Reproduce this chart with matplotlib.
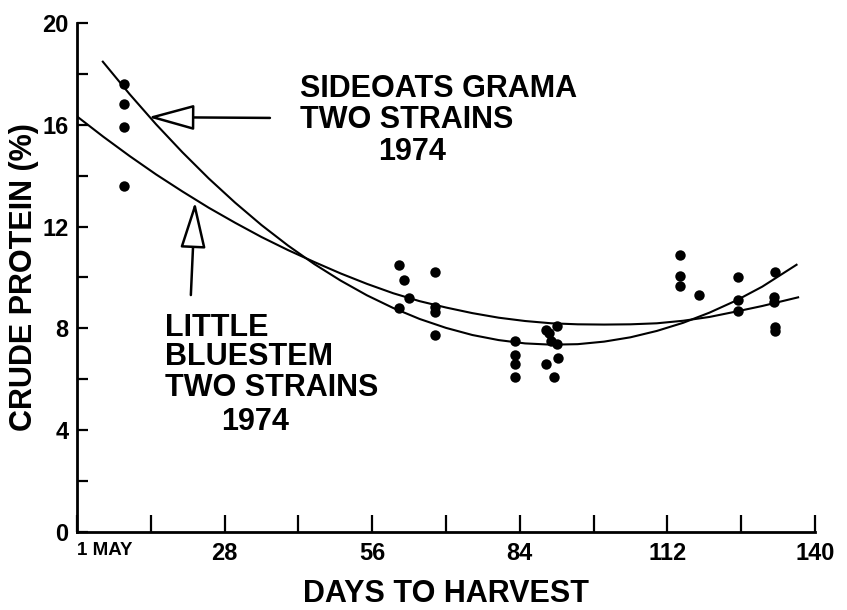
import numpy as np
import matplotlib
matplotlib.use("Agg")
import matplotlib.pyplot as plt

# harvest samples (days after 1 May, crude protein %)
sample_day = [9, 9, 9, 9,
              61, 62, 63, 61, 68, 68, 68, 68,
              83, 83, 83, 83, 89, 89.5, 90, 91, 91, 91.3, 89, 90.4,
              114.4, 114.4, 114.4, 118, 125.4, 125.4, 125.4,
              132.4, 132.2, 132.2, 132.5, 132.5]
sample_cp = [17.6, 16.8, 15.9, 13.6,
             10.5, 9.9, 9.2, 8.8, 10.2, 8.85, 8.65, 7.75,
             7.5, 6.95, 6.6, 6.1, 7.95, 7.8, 7.5, 8.1, 7.4, 6.85, 6.6, 6.1,
             10.9, 10.05, 9.65, 9.3, 10.0, 9.1, 8.7,
             10.2, 9.25, 9.05, 8.05, 7.9]

# fitted curves
sideoats_day = [4.9, 10, 15, 20, 25, 30, 35, 40, 45, 50, 55, 60, 65, 70, 75,
                80, 85, 90, 95, 100, 105, 110, 115, 120, 125, 130, 136.5]
sideoats_cp = [18.48, 17.2, 16.02, 14.92, 13.89, 12.94, 12.06, 11.26, 10.53,
               9.88, 9.3, 8.8, 8.37, 8.02, 7.74, 7.54, 7.41, 7.36, 7.38,
               7.48, 7.65, 7.9, 8.22, 8.62, 9.09, 9.64, 10.5]

bluestem_day = [0, 5, 10, 15, 20, 25, 30, 35, 40, 45, 50, 55, 60, 65, 70,
                75, 80, 85, 90, 95, 100, 105, 110, 115, 120, 125, 130, 136.8]
bluestem_cp = [16.33, 15.53, 14.77, 14.05, 13.38, 12.74, 12.15, 11.59, 11.08,
               10.61, 10.16, 9.75, 9.38, 9.07, 8.82, 8.6, 8.42, 8.29, 8.2,
               8.16, 8.15, 8.16, 8.2, 8.3, 8.45, 8.66, 8.88, 9.22]

x_ticks = [0, 14, 28, 42, 56, 70, 84, 98, 112, 126, 140]
x_labels = ["1 MAY", "", "28", "", "56", "", "84", "", "112", "", "140"]
y_ticks = [0, 2, 4, 6, 8, 10, 12, 14, 16, 18, 20]
y_labels = ["0", "", "4", "", "8", "", "12", "", "16", "", "20"]

FONT = ["Liberation Sans", "DejaVu Sans"]

fig = plt.figure(figsize=(8.47, 6.10), dpi=100)
ax = fig.add_axes([0.0909, 0.1279, 0.8713, 0.8344])

ax.plot(sideoats_day, sideoats_cp, color="black", lw=1.5)
ax.plot(bluestem_day, bluestem_cp, color="black", lw=1.5)
ax.plot(sample_day, sample_cp, "o", color="black", ms=7.5, mew=0)

ax.set_xlim(0, 140)
ax.set_ylim(0, 20)
for s in ["top", "right"]:
    ax.spines[s].set_visible(False)
for s in ["left", "bottom"]:
    ax.spines[s].set_linewidth(2)

ax.set_xticks(x_ticks)
ax.set_xticklabels(x_labels, family=FONT, fontweight="bold", fontsize=17)
ax.set_yticks(y_ticks)
ax.set_yticklabels(y_labels, family=FONT, fontweight="bold", fontsize=17)
ax.tick_params(axis="x", direction="in", length=12, width=1.6, pad=7)
ax.tick_params(axis="y", direction="in", length=8, width=1.6, pad=6)
may = ax.get_xticklabels()[0]
may.set_horizontalalignment("left")
may.set_fontsize(13.5)

ax.set_xlabel("DAYS TO HARVEST", family=FONT, fontweight="bold", fontsize=22)
ax.xaxis.set_label_coords(0.5, -0.092)
ax.set_ylabel("CRUDE PROTEIN (%)", family=FONT, fontweight="bold",
              fontsize=22, va="center")
ax.yaxis.set_label_coords(-0.072, 0.5)

txt = dict(family=FONT, fontweight="bold", fontsize=22, va="center")
ax.text(42.3, 17.4, "SIDEOATS GRAMA", ha="left", **txt)
ax.text(42.3, 16.19, "TWO STRAINS", ha="left", **txt)
ax.text(63.6, 14.93, "1974", ha="center", **txt)
ax.text(16.7, 8.02, "LITTLE", ha="left", **txt)
ax.text(16.7, 6.88, "BLUESTEM", ha="left", **txt)
ax.text(16.7, 5.66, "TWO STRAINS", ha="left", **txt)
ax.text(33.8, 4.32, "1974", ha="center", **txt)

arrow = dict(arrowstyle="-|>,head_length=2.9,head_width=0.8", mutation_scale=10,
             fc="white", ec="black", lw=1.8, shrinkA=0, shrinkB=0)
ax.annotate("", xy=(13.5, 16.3), xytext=(36.6, 16.27), arrowprops=arrow)
ax.annotate("", xy=(22.4, 12.97), xytext=(21.6, 9.31), arrowprops=arrow)

plt.savefig("out.png", dpi=100)
